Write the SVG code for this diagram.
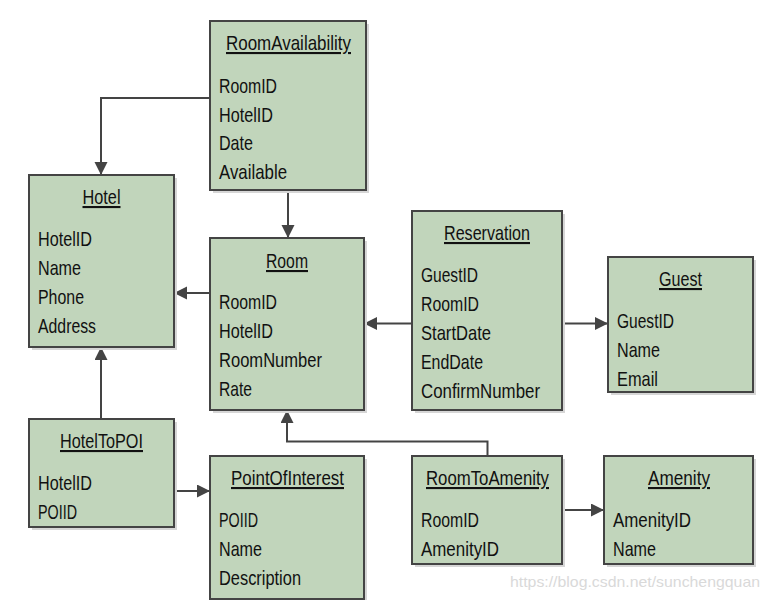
<svg xmlns="http://www.w3.org/2000/svg" width="769" height="600" viewBox="0 0 769 600">
<defs>
<style>
.box{fill:#c1d5bb;stroke:#444;stroke-width:2}
.sh{fill:#d6d6d6}
.t{font-family:"Liberation Sans",Arial,sans-serif;font-size:21px;fill:#111}
.ti{text-anchor:middle;text-decoration:underline}
.c{fill:none;stroke:#444;stroke-width:2;marker-end:url(#ah)}
.wm{font-family:"Liberation Sans",Arial,sans-serif;font-size:15px;fill:#d9d9d9}
</style>
<marker id="ah" markerUnits="userSpaceOnUse" markerWidth="14" markerHeight="14" refX="13" refY="6.5" orient="auto">
<path d="M0,0 L13,6.5 L0,13 z" fill="#444"/>
</marker>
</defs>
<rect width="769" height="600" fill="#fff"/>

<g id="connectors">
<path class="c" d="M210,98 H101 V175"/>
<path class="c" d="M288,190 V238"/>
<path class="c" d="M210,293 H174"/>
<path class="c" d="M412,323.5 H364"/>
<path class="c" d="M562,323.5 H608"/>
<path class="c" d="M101,419 V347"/>
<path class="c" d="M174,491 H210"/>
<path class="c" d="M487.5,456 V441.5 H287 V410"/>
<path class="c" d="M562,510 H604"/>
</g>

<g id="RoomAvailability">
<rect class="sh" x="213" y="24" width="156" height="169"/>
<rect class="box" x="210" y="21" width="156" height="169"/>
<text class="t ti" x="288.5" y="50" textLength="125" lengthAdjust="spacingAndGlyphs">RoomAvailability</text>
<text class="t" x="219" y="93" textLength="58" lengthAdjust="spacingAndGlyphs">RoomID</text>
<text class="t" x="219" y="122" textLength="54" lengthAdjust="spacingAndGlyphs">HotelID</text>
<text class="t" x="219" y="150" textLength="34" lengthAdjust="spacingAndGlyphs">Date</text>
<text class="t" x="219" y="179" textLength="68" lengthAdjust="spacingAndGlyphs">Available</text>
</g>

<g id="Hotel">
<rect class="sh" x="32" y="178" width="145" height="172"/>
<rect class="box" x="29" y="175" width="145" height="172"/>
<text class="t ti" x="101.5" y="204" textLength="38" lengthAdjust="spacingAndGlyphs">Hotel</text>
<text class="t" x="38" y="246" textLength="54" lengthAdjust="spacingAndGlyphs">HotelID</text>
<text class="t" x="38" y="275" textLength="43" lengthAdjust="spacingAndGlyphs">Name</text>
<text class="t" x="38" y="304" textLength="46" lengthAdjust="spacingAndGlyphs">Phone</text>
<text class="t" x="38" y="333" textLength="58" lengthAdjust="spacingAndGlyphs">Address</text>
</g>

<g id="Room">
<rect class="sh" x="213" y="241" width="154" height="172"/>
<rect class="box" x="210" y="238" width="154" height="172"/>
<text class="t ti" x="287" y="268" textLength="42" lengthAdjust="spacingAndGlyphs">Room</text>
<text class="t" x="219" y="309" textLength="58" lengthAdjust="spacingAndGlyphs">RoomID</text>
<text class="t" x="219" y="338" textLength="54" lengthAdjust="spacingAndGlyphs">HotelID</text>
<text class="t" x="219" y="367" textLength="103" lengthAdjust="spacingAndGlyphs">RoomNumber</text>
<text class="t" x="219" y="396" textLength="33" lengthAdjust="spacingAndGlyphs">Rate</text>
</g>

<g id="Reservation">
<rect class="sh" x="415" y="214" width="150" height="199"/>
<rect class="box" x="412" y="211" width="150" height="199"/>
<text class="t ti" x="487" y="240" textLength="86" lengthAdjust="spacingAndGlyphs">Reservation</text>
<text class="t" x="421" y="282" textLength="57" lengthAdjust="spacingAndGlyphs">GuestID</text>
<text class="t" x="421" y="311" textLength="58" lengthAdjust="spacingAndGlyphs">RoomID</text>
<text class="t" x="421" y="340" textLength="70" lengthAdjust="spacingAndGlyphs">StartDate</text>
<text class="t" x="421" y="369" textLength="62" lengthAdjust="spacingAndGlyphs">EndDate</text>
<text class="t" x="421" y="398" textLength="119" lengthAdjust="spacingAndGlyphs">ConfirmNumber</text>
</g>

<g id="Guest">
<rect class="sh" x="611" y="260" width="145" height="135"/>
<rect class="box" x="608" y="257" width="145" height="135"/>
<text class="t ti" x="680.5" y="286" textLength="43" lengthAdjust="spacingAndGlyphs">Guest</text>
<text class="t" x="617" y="328" textLength="57" lengthAdjust="spacingAndGlyphs">GuestID</text>
<text class="t" x="617" y="357" textLength="43" lengthAdjust="spacingAndGlyphs">Name</text>
<text class="t" x="617" y="386" textLength="41" lengthAdjust="spacingAndGlyphs">Email</text>
</g>

<g id="HotelToPOI">
<rect class="sh" x="32" y="422" width="145" height="108"/>
<rect class="box" x="29" y="419" width="145" height="108"/>
<text class="t ti" x="101.5" y="448" textLength="83" lengthAdjust="spacingAndGlyphs">HotelToPOI</text>
<text class="t" x="38" y="490" textLength="54" lengthAdjust="spacingAndGlyphs">HotelID</text>
<text class="t" x="38" y="519" textLength="39" lengthAdjust="spacingAndGlyphs">POIID</text>
</g>

<g id="PointOfInterest">
<rect class="sh" x="213" y="459" width="154" height="143"/>
<rect class="box" x="210" y="456" width="154" height="143"/>
<text class="t ti" x="287.5" y="485" textLength="113" lengthAdjust="spacingAndGlyphs">PointOfInterest</text>
<text class="t" x="219" y="527" textLength="39" lengthAdjust="spacingAndGlyphs">POIID</text>
<text class="t" x="219" y="556" textLength="43" lengthAdjust="spacingAndGlyphs">Name</text>
<text class="t" x="219" y="585" textLength="82" lengthAdjust="spacingAndGlyphs">Description</text>
</g>

<g id="RoomToAmenity">
<rect class="sh" x="415" y="459" width="150" height="108"/>
<rect class="box" x="412" y="456" width="150" height="108"/>
<text class="t ti" x="487.5" y="485" textLength="123" lengthAdjust="spacingAndGlyphs">RoomToAmenity</text>
<text class="t" x="421" y="527" textLength="58" lengthAdjust="spacingAndGlyphs">RoomID</text>
<text class="t" x="421" y="556" textLength="78" lengthAdjust="spacingAndGlyphs">AmenityID</text>
</g>

<g id="Amenity">
<rect class="sh" x="607" y="459" width="149" height="108"/>
<rect class="box" x="604" y="456" width="149" height="108"/>
<text class="t ti" x="679" y="485" textLength="62" lengthAdjust="spacingAndGlyphs">Amenity</text>
<text class="t" x="613" y="527" textLength="78" lengthAdjust="spacingAndGlyphs">AmenityID</text>
<text class="t" x="613" y="556" textLength="43" lengthAdjust="spacingAndGlyphs">Name</text>
</g>

<text class="wm" x="510" y="587" textLength="250" lengthAdjust="spacingAndGlyphs">https://blog.csdn.net/sunchengquan</text>
</svg>
